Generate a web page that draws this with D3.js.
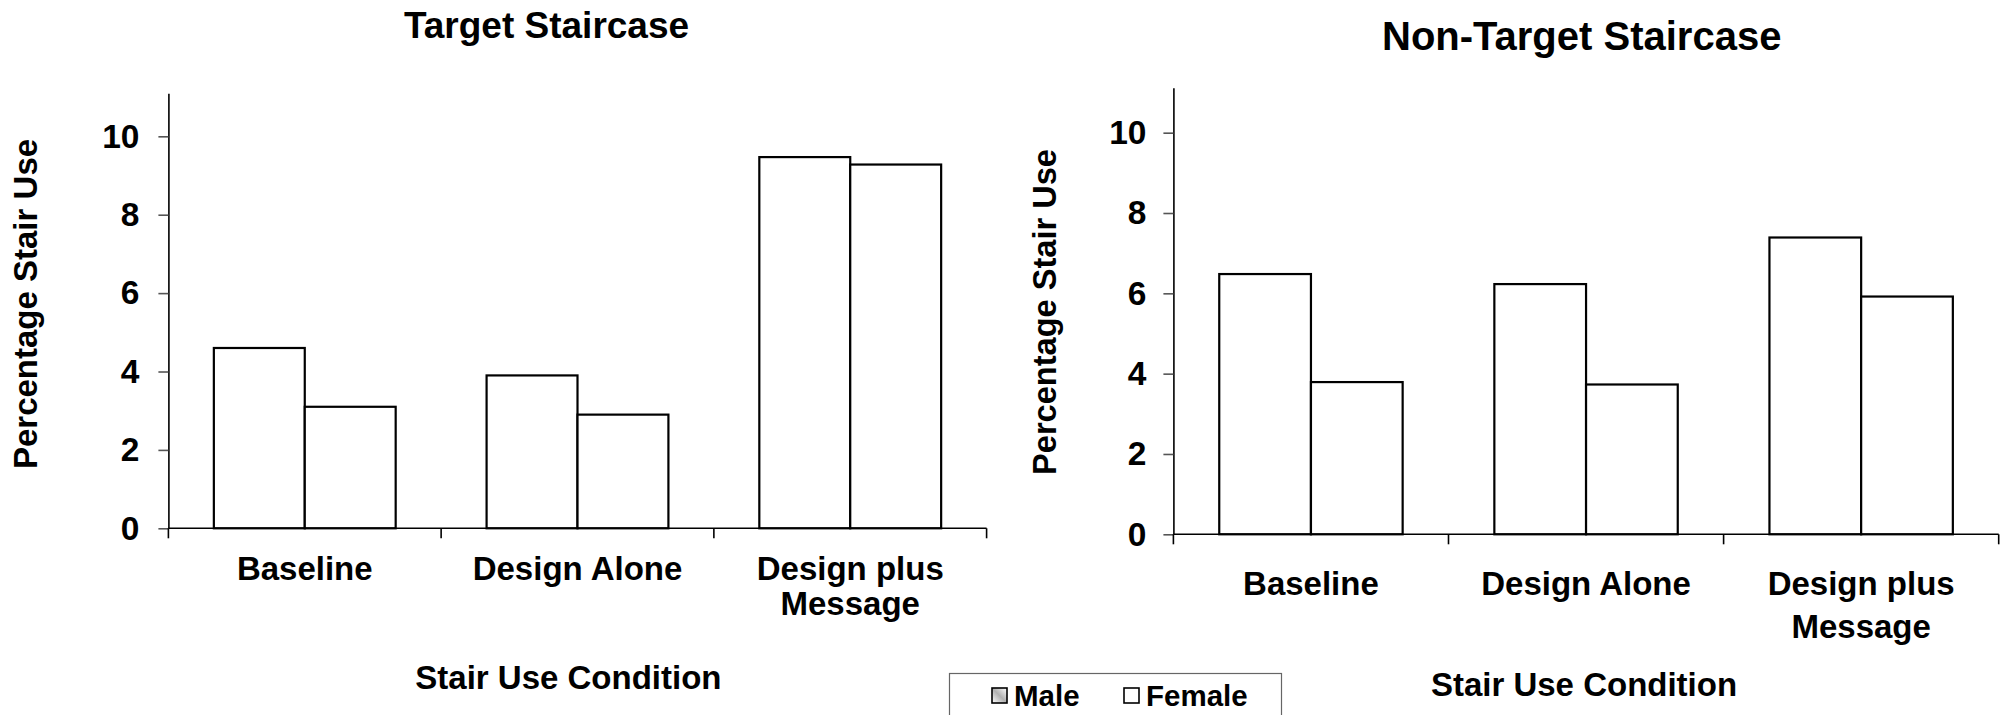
<!DOCTYPE html>
<html>
<head>
<meta charset="utf-8">
<script src="https://cdn.jsdelivr.net/npm/d3@7"></script>
<style>
  html, body { margin: 0; padding: 0; background: #fff; }
  svg { display: block; }
  text { font-family: "Liberation Sans", Arial, sans-serif; font-weight: bold; fill: #000; }
</style>
</head>
<body>
<svg id="chart" width="2011" height="715"></svg>
<script>
// ---- data ----
const categories = ["Baseline", "Design Alone", "Design plus Message"];
const categoryLabelLines = [["Baseline"], ["Design Alone"], ["Design plus", "Message"]];
const series = ["Male", "Female"];
const targetMale = [4.6, 3.9, 9.47];
const targetFemale = [3.1, 2.9, 9.28];
const nonTargetMale = [6.48, 6.23, 7.39];
const nonTargetFemale = [3.79, 3.73, 5.92];
const yTicks = [0, 2, 4, 6, 8, 10];
const panelTitles = ["Target Staircase", "Non-Target Staircase"];
const yAxisTitle = "Percentage Stair Use";
const xAxisTitle = "Stair Use Condition";

const svg = d3.select("#chart");

// legend swatch gradient
const defs = svg.append("defs");
const grad = defs.append("linearGradient").attr("id", "maleGrad")
  .attr("x1", "0").attr("y1", "1").attr("x2", "1").attr("y2", "0");
grad.append("stop").attr("offset", "0%").attr("stop-color", "#ffffff");
grad.append("stop").attr("offset", "50%").attr("stop-color", "#b0b0b0");
grad.append("stop").attr("offset", "100%").attr("stop-color", "#ffffff");

function drawPanel(cfg) {
  const g = svg.append("g");
  const x0 = d3.scaleBand().domain(categories).range(cfg.xRange).paddingInner(0).paddingOuter(0);
  const x1 = d3.scaleBand().domain(series).range([0, x0.bandwidth()]).paddingInner(0).paddingOuter(0.5);
  const y = d3.scaleLinear().domain([0, cfg.yMax]).range(cfg.yRange);

  const rows = categories.map((c, i) => ({ cat: c, vals: [cfg.male[i], cfg.female[i]] }));

  // bars
  g.selectAll("g.grp").data(rows).join("g").attr("class", "grp")
    .attr("transform", d => `translate(${x0(d.cat)},0)`)
    .selectAll("rect").data(d => d.vals.map((v, k) => ({ s: series[k], v })))
    .join("rect")
    .attr("x", d => x1(d.s))
    .attr("y", d => y(d.v))
    .attr("width", x1.bandwidth())
    .attr("height", d => y(0) - y(d.v))
    .attr("fill", "#fff")
    .attr("stroke", "#000")
    .attr("stroke-width", 2.2);

  // y axis
  const yAxis = d3.axisLeft(y).tickValues(yTicks).tickSize(10).tickSizeOuter(0).tickPadding(cfg.tickPad).tickFormat(d3.format("d"));
  const ya = g.append("g").attr("transform", `translate(${cfg.xRange[0]},0)`).call(yAxis);
  ya.select(".domain").attr("stroke", "#000").attr("stroke-width", 1.6);
  ya.selectAll(".tick line").attr("stroke", "#555").attr("stroke-width", 1.6);
  ya.selectAll(".tick text").style("font-size", "33.5px").style("font-family", "'Liberation Sans', Arial, sans-serif").style("font-weight", "bold").attr("fill", "#000");

  // x axis line
  g.append("line")
    .attr("x1", cfg.xRange[0]).attr("x2", cfg.xRange[1])
    .attr("y1", y(0)).attr("y2", y(0))
    .attr("stroke", "#000").attr("stroke-width", 1.6);
  // category boundary ticks
  const bounds = d3.range(categories.length + 1).map(i => x0.range()[0] + i * x0.step());
  g.selectAll("line.xt").data(bounds).join("line").attr("class", "xt")
    .attr("x1", d => d).attr("x2", d => d)
    .attr("y1", y(0)).attr("y2", y(0) + 10)
    .attr("stroke", "#000").attr("stroke-width", 1.6);

  // category labels
  const lab = g.selectAll("text.cat").data(categories).join("text").attr("class", "cat")
    .attr("text-anchor", "middle")
    .style("font-size", "33px");
  lab.each(function(c, i) {
    const t = d3.select(this);
    categoryLabelLines[i].forEach((line, j) => {
      t.append("tspan")
        .attr("x", x0(c) + x0.bandwidth() / 2)
        .attr("y", cfg.catY + j * cfg.catLine)
        .text(line);
    });
  });

  // titles
  g.append("text").attr("x", cfg.titleX).attr("y", cfg.titleY)
    .attr("text-anchor", "middle").style("font-size", cfg.titleSize + "px").text(cfg.title);
  g.append("text").attr("x", cfg.xTitleX).attr("y", cfg.xTitleY)
    .attr("text-anchor", "middle").style("font-size", "33px").text(xAxisTitle);
  g.append("text").attr("transform", `translate(${cfg.yTitleX},${cfg.yTitleY}) rotate(-90)`)
    .attr("text-anchor", "middle").style("font-size", cfg.yTitleSize + "px").text(yAxisTitle);
}

drawPanel({
  male: targetMale, female: targetFemale, title: panelTitles[0], titleSize: 37,
  xRange: [168.4, 986.6], yMax: 11.1, yRange: [528.3, 93.2], tickPad: 19,
  catY: 579.5, catLine: 35.7,
  titleX: 546.5, titleY: 37.5,
  xTitleX: 568.4, xTitleY: 688.5,
  yTitleX: 36.5, yTitleY: 304, yTitleSize: 33
});

drawPanel({
  male: nonTargetMale, female: nonTargetFemale, title: panelTitles[1], titleSize: 40,
  xRange: [1173.4, 1998.7], yMax: 11.12, yRange: [534.3, 87.7], tickPad: 17,
  catY: 595, catLine: 42.5,
  titleX: 1581.7, titleY: 50,
  xTitleX: 1584, xTitleY: 696,
  yTitleX: 1055.5, yTitleY: 312, yTitleSize: 32.6
});

// legend
const lg = svg.append("g");
lg.append("rect").attr("x", 949.5).attr("y", 673.5).attr("width", 332).attr("height", 60)
  .attr("fill", "#fff").attr("stroke", "#666").attr("stroke-width", 1.2);
const legendX = [992, 1124];
const items = lg.selectAll("g.li").data(series).join("g").attr("class", "li")
  .attr("transform", (d, i) => `translate(${legendX[i]},688)`);
items.append("rect").attr("x", 0).attr("y", 0).attr("width", 15).attr("height", 15)
  .attr("fill", (d, i) => i === 0 ? "url(#maleGrad)" : "#fff")
  .attr("stroke", "#000").attr("stroke-width", 1.6);
items.append("text").attr("x", 22).attr("y", 18).style("font-size", "29.5px").text(d => d);
</script>
</body>
</html>
